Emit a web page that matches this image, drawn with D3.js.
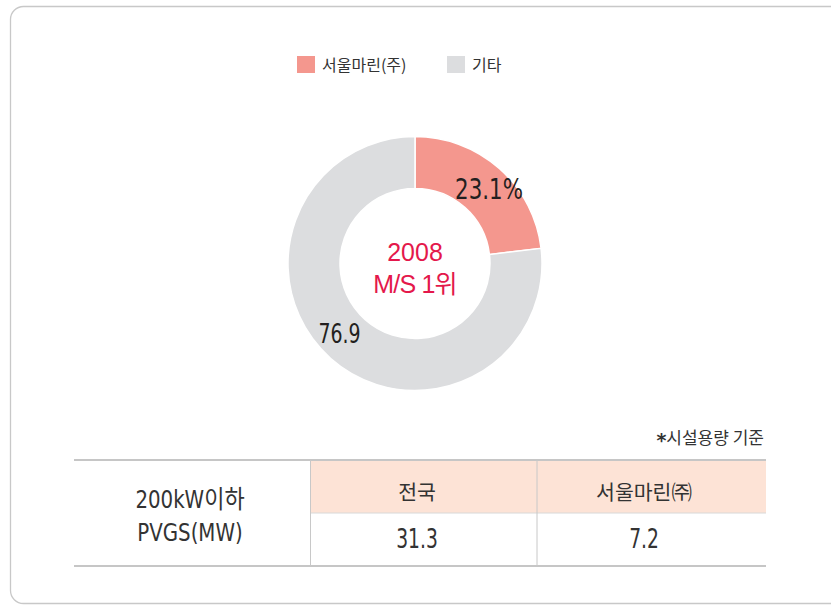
<!DOCTYPE html>
<html><head><meta charset="utf-8">
<script src="https://cdn.jsdelivr.net/npm/d3@7"></script>
<style>
body{margin:0;background:#fff;}
svg{display:block;font-family:"Noto Sans CJK KR","Noto Sans",sans-serif;}
</style></head>
<body>
<svg id="c" width="831" height="606"></svg>
<script>
const categories = ["서울마린(주)", "기타"];
const shares = [23.1, 76.9];
const shareLabels = ["23.1%", "76.9"];
const colors = ["#f4978e", "#dcdddf"];
const centerText = ["2008", "M/S 1위"];
const footnote = "시설용량 기준";
const rowHeader = ["200kW이하", "PVGS(MW)"];
const tableCols = ["전국", "서울마린㈜"];
const tableVals = ["31.3", "7.2"];

const NARROW = "'DejaVu Sans Condensed','Noto Sans CJK KR',sans-serif";
const svg = d3.select("#c");
// condensed text helper: real text, squeezed horizontally around its anchor
function ctext(x, y, sx, size, t, fill){
  return svg.append("g").attr("transform",`translate(${x},${y}) scale(${sx},1)`)
    .append("text").attr("text-anchor","middle").attr("font-family",NARROW)
    .attr("font-size",size).attr("fill",fill||"#333").text(t);
}
// frame
svg.append("rect").attr("x",10.5).attr("y",6.5).attr("width",840).attr("height",597)
  .attr("rx",13).attr("fill","none").attr("stroke","#c8c8c8").attr("stroke-width",1.3);

// legend
const legX = [297, 447];
categories.forEach((c,i)=>{
  const g = svg.append("g");
  g.append("rect").attr("x",legX[i]).attr("y",56).attr("width",18).attr("height",17).attr("fill",colors[i]);
  g.append("text").attr("x",legX[i]+25).attr("y",71).attr("font-size",16).attr("fill","#333").text(c);
});

// donut
const cx=415, cy=263.5, rO=127, rI=75;
const pie = d3.pie().sort(null).value(d=>d);
const arc = d3.arc().innerRadius(rI).outerRadius(rO);
const arcs = pie(shares);
const g = svg.append("g").attr("transform",`translate(${cx},${cy})`);
g.selectAll("path").data(arcs).join("path").attr("d",arc)
  .attr("fill",(d,i)=>colors[i]).attr("stroke","#fff").attr("stroke-width",1.5);
// labels
const labelPos = [[489,199,29,0.82],[339.5,343,27,0.78]];
shareLabels.forEach((t,i)=>{
  ctext(labelPos[i][0], labelPos[i][1], labelPos[i][3], labelPos[i][2], t, "#231f20");
});
centerText.forEach((t,i)=>{
  svg.append("text").attr("x",cx).attr("y",261+i*32).attr("text-anchor","middle")
    .attr("font-family","'Liberation Sans','Noto Sans CJK KR',sans-serif")
    .attr("font-size",25).attr("letter-spacing",i===1?-0.8:0).attr("fill","#e4184b").text(t);
});

// footnote
const fn = svg.append("text").attr("x",764).attr("y",444).attr("text-anchor","end")
  .attr("font-size",17).attr("fill","#333");
fn.append("tspan").attr("font-family","'DejaVu Sans',sans-serif").attr("font-weight","bold")
  .attr("font-size",19).attr("dy",3).text("*");
fn.append("tspan").attr("dy",-3).text(footnote);

// table
const tL=74, tR=766, tTop=460, tMid=513, tBot=566, c1=310.5, c2=537;
svg.append("rect").attr("x",c1).attr("y",tTop).attr("width",tR-c1).attr("height",tMid-tTop).attr("fill","#fde3d6");
svg.append("line").attr("x1",tL).attr("x2",tR).attr("y1",tTop).attr("y2",tTop).attr("stroke","#c6c6c6").attr("stroke-width",2);
svg.append("line").attr("x1",c1).attr("x2",tR).attr("y1",tMid).attr("y2",tMid).attr("stroke","#d8d8d8").attr("stroke-width",1);
svg.append("line").attr("x1",tL).attr("x2",tR).attr("y1",tBot).attr("y2",tBot).attr("stroke","#c6c6c6").attr("stroke-width",2);
[c1,c2].forEach(x=>svg.append("line").attr("x1",x).attr("x2",x).attr("y1",tTop).attr("y2",tBot).attr("stroke","#c8c8c8").attr("stroke-width",1));
rowHeader.forEach((t,i)=>{
  ctext(190, 508+i*33, 0.88, 25, t);
});
const colCx=[417,644];
tableCols.forEach((t,i)=>{
  svg.append("text").attr("x",colCx[i]).attr("y",500).attr("text-anchor","middle")
    .attr("font-size",20.5).attr("fill","#333").text(t);
  ctext(colCx[i], 548, 0.77, 27, tableVals[i]);
});
</script>
</body></html>
